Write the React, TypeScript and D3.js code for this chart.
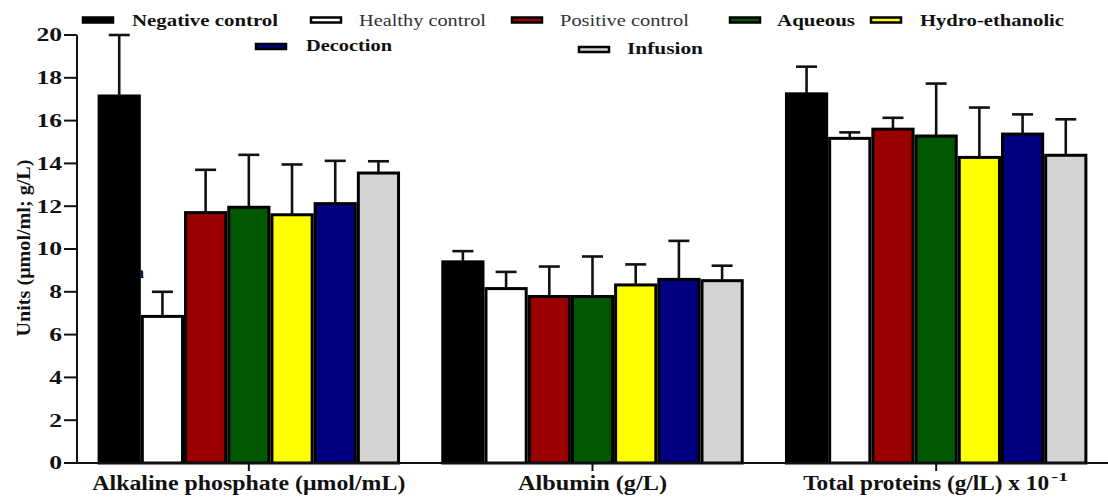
import React, { useEffect } from "react";
import * as d3 from "d3";

const categories = ["Alkaline phosphate (μmol/mL)", "Albumin (g/L)", "Total proteins"];
const seriesNames = ["Negative control", "Healthy control", "Positive control", "Aqueous", "Hydro-ethanolic", "Decoction", "Infusion"];
const seriesColors = ["#000000", "#ffffff", "#9b0000", "#005800", "#ffff00", "#000080", "#d3d3d3"];
const legendBold = [true, false, false, true, true, true, true];
// values per series: [alkaline, albumin, total proteins]
const means = [
  [17.15, 9.4, 17.25],
  [6.85, 8.15, 15.17],
  [11.7, 7.78, 15.6],
  [11.95, 7.78, 15.28],
  [11.6, 8.32, 14.28],
  [12.12, 8.58, 15.37],
  [13.55, 8.52, 14.38],
];
const errors = [
  [2.85, 0.5, 1.27],
  [1.15, 0.78, 0.28],
  [2.0, 1.4, 0.53],
  [2.45, 1.87, 2.45],
  [2.35, 0.96, 2.33],
  [2.0, 1.8, 0.92],
  [0.55, 0.7, 1.68],
];
const yTicks = [0, 2, 4, 6, 8, 10, 12, 14, 16, 18, 20];

const W = 1108;
const H = 497;
const FONT = "Liberation Serif";

// legend layout (visual styling only)
const legendLayout = [
  { x: 83, y: 20, tx: 132, ty: 25.5, len: 146 },
  { x: 311, y: 20, tx: 359, ty: 25.5, len: 127 },
  { x: 512, y: 20, tx: 560, ty: 25.5, len: 129 },
  { x: 730, y: 20, tx: 777, ty: 25.5, len: 78 },
  { x: 871, y: 20, tx: 920, ty: 25.5, len: 144 },
  { x: 256, y: 46.5, tx: 306, ty: 50.5, len: 86 },
  { x: 579, y: 49.5, tx: 627, ty: 53.5, len: 76 },
];
const xLabelLen = [313, 149, 266];

export default function App() {
  useEffect(() => {
    document.body.style.margin = "0";
  }, []);

  const y = d3.scaleLinear().domain([0, 20]).range([463, 35]);
  const x0 = d3.scaleBand<string>().domain(categories).range([77, 1108]).paddingInner(0.12).paddingOuter(0.06);
  const x1 = d3.scaleBand<string>().domain(seriesNames).range([0, x0.bandwidth()]).padding(0);

  return (
    <svg width={W} height={H} style={{ display: "block", background: "#fff", fontFamily: FONT }}>
      {/* significance letter partially hidden behind bar */}
      <text x={136} y={278} fontSize={16} fontWeight="bold" fill="#111">a</text>

      {/* bars */}
      {categories.map((c, ci) => (
        <g key={c} transform={`translate(${x0(c)},0)`}>
          {seriesNames.map((s, si) => {
            const v = means[si][ci];
            return (
              <rect
                key={s}
                x={x1(s)! + 1.5}
                y={y(v)}
                width={x1.bandwidth() - 3}
                height={y(0) - y(v)}
                fill={seriesColors[si]}
                stroke="#000"
                strokeWidth={3}
              />
            );
          })}
          {seriesNames.map((s, si) => {
            const v = means[si][ci];
            const e = errors[si][ci];
            const cx = x1(s)! + x1.bandwidth() / 2;
            return (
              <g key={s + "e"} stroke="#111" strokeWidth={2.6}>
                <line x1={cx} x2={cx} y1={y(v)} y2={y(v + e)} />
                <line x1={cx - 10.5} x2={cx + 10.5} y1={y(v + e)} y2={y(v + e)} />
              </g>
            );
          })}
        </g>
      ))}

      {/* y axis */}
      <line x1={77} x2={77} y1={y(20)} y2={y(0) + 1} stroke="#111" strokeWidth={2} />
      {yTicks.map((t) => {
        const label = String(t);
        return (
          <g key={t}>
            <line x1={64} x2={77} y1={y(t)} y2={y(t)} stroke="#111" strokeWidth={2} />
            <text
              x={62}
              y={y(t)}
              dy="0.35em"
              textAnchor="end"
              fontSize={18}
              fontWeight="bold"
              fill="#111"
              textLength={label.length * 12.8}
              lengthAdjust="spacingAndGlyphs"
            >
              {label}
            </text>
          </g>
        );
      })}
      <text
        transform={`translate(30,248) rotate(-90)`}
        textAnchor="middle"
        fontSize={19}
        fontWeight="bold"
        fill="#111"
        textLength={177}
        lengthAdjust="spacingAndGlyphs"
      >
        Units (μmol/ml; g/L)
      </text>

      {/* x axis */}
      <line x1={77} x2={1108} y1={y(0)} y2={y(0)} stroke="#111" strokeWidth={2} />
      {categories.map((c) => {
        const cx = x0(c)! + x0.bandwidth() / 2;
        return <line key={c} x1={cx} x2={cx} y1={y(0)} y2={y(0) + 8} stroke="#111" strokeWidth={2} />;
      })}
      {categories.map((c, ci) => {
        const cx = x0(c)! + x0.bandwidth() / 2;
        if (ci === 2) {
          return (
            <g key={c}>
              <text
                x={cx - 133}
                y={490}
                fontSize={20}
                fontWeight="bold"
                fill="#111"
                textLength={246}
                lengthAdjust="spacingAndGlyphs"
              >
                {"Total proteins (g/lL) x 10"}
              </text>
              <text x={cx + 115} y={481} fontSize={12} fontWeight="bold" fill="#111" textLength={17} lengthAdjust="spacingAndGlyphs">
                -1
              </text>
            </g>
          );
        }
        return (
          <text
            key={c}
            x={cx}
            y={490}
            textAnchor="middle"
            fontSize={20}
            fontWeight="bold"
            fill="#111"
            textLength={xLabelLen[ci]}
            lengthAdjust="spacingAndGlyphs"
          >
            {c}
          </text>
        );
      })}

      {/* legend */}
      {seriesNames.map((s, si) => {
        const p = legendLayout[si];
        return (
          <g key={s}>
            <rect x={p.x} y={p.y - 2.5} width={30} height={5} fill={seriesColors[si]} stroke="#000" strokeWidth={2.5} />
            <text
              x={p.tx}
              y={p.ty}
              fontSize={16}
              fontWeight={legendBold[si] ? "bold" : "normal"}
              fill={legendBold[si] ? "#111" : "#333"}
              textLength={p.len}
              lengthAdjust="spacingAndGlyphs"
            >
              {s}
            </text>
          </g>
        );
      })}
    </svg>
  );
}
